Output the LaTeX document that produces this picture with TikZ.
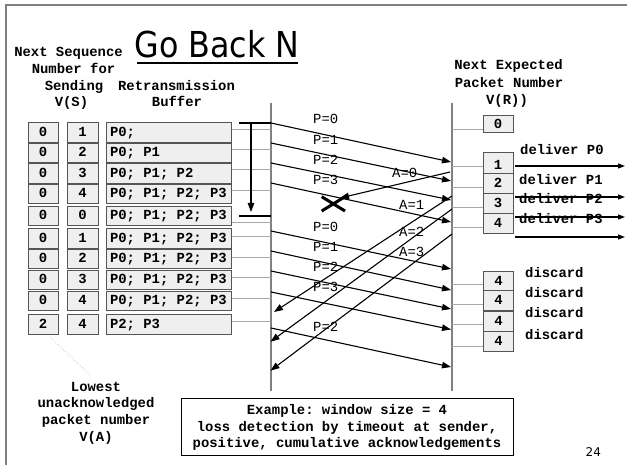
\documentclass[tikz,border=0pt]{standalone}
\usepackage{fontspec}
\setmonofont{Liberation Mono}
\newfontfamily\titlefont{DejaVu Sans}[FakeStretch=0.89]
\newfontfamily\pagenumfont{DejaVu Sans}
\usetikzlibrary{arrows.meta}
\definecolor{cellfill}{HTML}{EFEFEF}
\definecolor{cellborder}{HTML}{555555}
\definecolor{lifeline}{HTML}{808080}
\definecolor{guide}{HTML}{A8A8A8}
\begin{document}
\frenchspacing
\begin{tikzpicture}[x=1pt,y=-1pt,
  every node/.style={inner sep=0pt},
  lbl/.style={font=\ttfamily\bfseries\fontsize{13.9}{16}\selectfont\frenchspacing, anchor=base},
  plbl/.style={font=\ttfamily\fontsize{13.9}{16}\selectfont, anchor=base west},
  cell/.style={draw=cellborder, fill=cellfill, line width=1pt,
    font=\ttfamily\bfseries\fontsize{13.9}{16}\selectfont\frenchspacing,
    text height=8pt, text depth=0pt, minimum height=19.5pt},
  bufcell/.style={cell, anchor=west, minimum width=125pt},
  gline/.style={draw=guide, line width=0.5pt},
  life/.style={draw=lifeline, line width=1.5pt},
  msgarrow/.style={line width=1.1pt, -{Triangle[length=9pt,width=6.5pt]}},
  deliverarrow/.style={line width=1.1pt, -{Triangle[length=7pt,width=5pt]}}
]
\useasboundingbox (0,0) rectangle (627,465);

% slide frame
\draw[life] (627,5) -- (6,5) -- (6,465);

% title
\node[font=\titlefont\fontsize{35.7}{40}\selectfont, anchor=base] (title) at (217,58) {Go Back N};
\draw[line width=2pt] (137,63.3) -- (298,63.3);

% headings
\node[lbl] (hs1) at (68.5,57) {Next Sequence};
\node[lbl] (hs2) at (73.5,73.5) {Number for};
\node[lbl] (hs3) at (74,90.5) {Sending};
\node[lbl] (hs4) at (71.5,107) {V(S)};
\node[lbl] (hb1) at (176.5,90.5) {Retransmission};
\node[lbl] (hb2) at (177,107) {Buffer};
\node[lbl] (hr1) at (508.5,70) {Next Expected};
\node[lbl] (hr2) at (509,87.5) {Packet Number};
\node[lbl] (hr3) at (507,104.5) {V(R))};

% life lines
\coordinate (S0) at (271,103); \coordinate (S1) at (271,391);
\coordinate (R0) at (452,103); \coordinate (R1) at (452,391);
\draw[life] (S0) -- (S1);
\draw[life] (R0) -- (R1);

% sender rows
\foreach \i/\y/\g/\a/\b/\t in {
  1/132.5/129/0/1/{P0;},
  2/153/149/0/2/{P0;\ P1},
  3/173.5/169/0/3/{P0;\ P1;\ P2},
  4/194/190/0/4/{P0;\ P1;\ P2;\ P3},
  5/216/222/0/0/{P0;\ P1;\ P2;\ P3},
  6/238.5/236/0/1/{P0;\ P1;\ P2;\ P3},
  7/259/257/0/2/{P0;\ P1;\ P2;\ P3},
  8/280/277/0/3/{P0;\ P1;\ P2;\ P3},
  9/301/298/0/4/{P0;\ P1;\ P2;\ P3},
  10/324.5/321/2/4/{P2;\ P3}}
{
  \node[cell, minimum width=30pt] (va\i) at (43,\y) {\a};
  \node[cell, minimum width=31pt] (vs\i) at (82.5,\y) {\b};
  \node[bufcell] (buf\i) at (106,\y) {\makebox[118pt][l]{\t}};
  \draw[gline] (buf\i.east |- 0,\g) -- (S0 |- 0,\g);
}

% receiver guide lines and boxes
\foreach \g in {129,166,187,207,227,284,304,324,346}
  \draw[gline] (R0 |- 0,\g) -- (483,\g);
\node[cell, minimum width=30pt, minimum height=17pt] (r0) at (498,124.5) {0};
\node[cell, minimum width=30pt, minimum height=25pt] (r1) at (498,165.5) {1};
\node[cell, minimum width=30pt, minimum height=20pt] (r2) at (498,183.5) {2};
\node[cell, minimum width=30pt, minimum height=20pt] (r3) at (498,204) {3};
\node[cell, minimum width=30pt, minimum height=20pt] (r4) at (498,224) {4};
\node[cell, minimum width=30pt, minimum height=20pt] (d1) at (498.5,281.5) {4};
\node[cell, minimum width=30pt, minimum height=20pt] (d2) at (498.5,301) {4};
\node[cell, minimum width=30pt, minimum height=20pt] (d3) at (498.5,321.5) {4};
\node[cell, minimum width=30pt, minimum height=20pt] (d4) at (498.5,341.5) {4};

% timeout bracket
\coordinate (t0) at (239,123);
\coordinate (t1) at (239,216);
\coordinate (t1e) at (271,216);
\coordinate (ta) at (251,123);
\coordinate (tb) at (251,212);

% data packets
\foreach \n/\ys/\ye in {1/123/162, 2/143/181, 3/163/200, 4/183/222,
                        5/231/269, 6/251/290, 7/271/309, 8/292/329.5, 9/328/367}
{
  \coordinate (ps\n) at (271,\ys);
  \coordinate (pe\n) at (451,\ye);
  \draw[msgarrow] (ps\n) -- (pe\n);
}
\draw[line width=1.1pt] (t0) -- (ps1);
\draw[line width=1.1pt] (t1) -- (t1e);
\draw[msgarrow] (ta) -- (tb);

% acknowledgements
\coordinate (as0) at (450,172);   \coordinate (lost) at (340,198);
\coordinate (as1) at (452,196);   \coordinate (ae1) at (274,312);
\coordinate (as2) at (452,209);   \coordinate (ae2) at (270.5,341.7);
\coordinate (as3) at (452,234);   \coordinate (ae3) at (270.5,370.7);
\draw[msgarrow] (as0) -- (lost);
\draw[msgarrow] (as1) -- (ae1);
\draw[msgarrow] (as2) -- (ae2);
\draw[msgarrow] (as3) -- (ae3);

% lost ack cross
\draw[line width=3pt] (321.7,196.7) -- (345,211) (321.7,211) -- (345,196.7);

% deliveries
\foreach \n/\y in {1/166, 2/197, 3/217, 4/237}
{
  \coordinate (ds\n) at (515,\y);
  \coordinate (de\n) at (625,\y);
  \draw[deliverarrow] (ds\n) -- (de\n);
}

% packet / ack labels
\foreach \t/\x/\y in {P=0/313/124, P=1/313/145, P=2/313/165, P=3/313/185,
                      P=0/313/232, P=1/313/252, P=2/313/272, P=3/313/292, P=2/313/331,
                      A=0/392/178, A=1/399/210, A=2/399/237, A=3/399/257}
  \node[plbl] at (\x,\y) {\t};

% receiver actions
\node[lbl, anchor=base west] (dl0) at (520,155) {deliver P0};
\node[lbl, anchor=base west] (dl1) at (519,185) {deliver P1};
\node[lbl, anchor=base west] (dl2) at (519,204) {deliver P2};
\node[lbl, anchor=base west] (dl3) at (519,224) {deliver P3};
\node[lbl, anchor=base west] (dc1) at (525,278) {discard};
\node[lbl, anchor=base west] (dc2) at (525,298) {discard};
\node[lbl, anchor=base west] (dc3) at (525,318) {discard};
\node[lbl, anchor=base west] (dc4) at (525,339) {discard};

% lowest unacknowledged
\coordinate (lw0) at (50,337);
\coordinate (lw1) at (90,375);
\draw[draw=guide, line width=0.6pt, dotted] (lw0) -- (lw1);
\node[lbl] (lo1) at (96,391) {Lowest};
\node[lbl] (lo2) at (96,407.7) {unacknowledged};
\node[lbl] (lo3) at (96,424.4) {packet number};
\node[lbl] (lo4) at (96,441) {V(A)};

% example box
\node[draw, line width=1pt, minimum width=332pt, minimum height=57pt] (ex) at (347,426.5) {};
\node[lbl] (ex1) at (347,414) {Example: window size = 4};
\node[lbl] (ex2) at (347,431) {loss detection by timeout at sender,};
\node[lbl] (ex3) at (347,447) {positive, cumulative acknowledgements};

% page number
\node[font=\pagenumfont\fontsize{12}{14}\selectfont, anchor=base] (pg) at (593.3,456.7) {24};
\end{tikzpicture}
\end{document}
